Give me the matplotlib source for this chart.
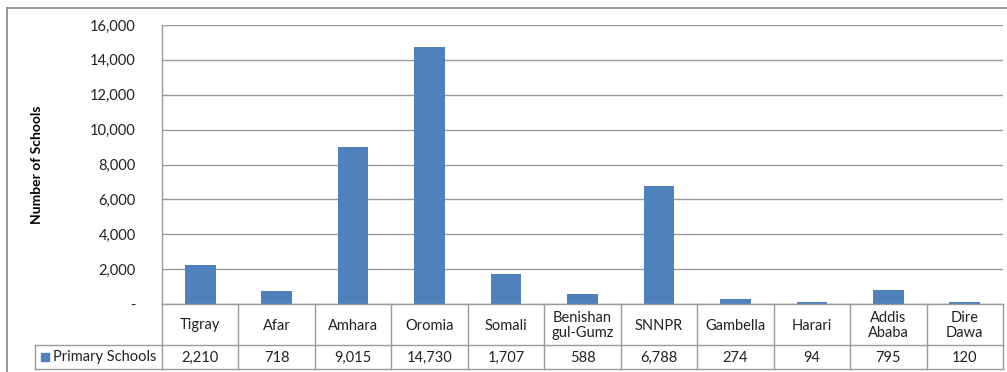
import matplotlib
matplotlib.use("Agg")
import matplotlib.pyplot as plt
from matplotlib.lines import Line2D
from matplotlib.patches import Rectangle
from matplotlib.ticker import FuncFormatter

categories = ["Tigray", "Afar", "Amhara", "Oromia", "Somali", "Benishan\ngul-Gumz",
              "SNNPR", "Gambella", "Harari", "Addis\nAbaba", "Dire\nDawa"]
primary_schools = [2210, 718, 9015, 14730, 1707, 588, 6788, 274, 94, 795, 120]
series_name = "Primary Schools"
y_ticks = [0, 2000, 4000, 6000, 8000, 10000, 12000, 14000, 16000]

plt.rcParams['font.family'] = ['Lato', 'DejaVu Sans']
W, H = 1007, 372
fig = plt.figure(figsize=(W / 100, H / 100), dpi=100)
fig.patch.set_facecolor('white')

def fx(px):
    return px / W

def fy(py):
    return 1 - py / H

bar_color = '#4F81BD'
grid_color = '#9a9a9a'
line_color = '#9a9a9a'

left, right, top, bottom = 162, 1003, 25, 304
ax = fig.add_axes([fx(left), fy(bottom), fx(right - left), (bottom - top) / H])
x = list(range(len(categories)))
ax.bar(x, primary_schools, width=0.4, color=bar_color, zorder=3)
ax.set_xlim(-0.5, len(categories) - 0.5)
ax.set_ylim(0, 16000)
ax.set_yticks(y_ticks)
ax.yaxis.set_major_formatter(FuncFormatter(lambda v, p: '-' if v == 0 else f"{int(v):,}"))
ax.tick_params(axis='y', length=0, pad=19, labelsize=10.5, colors='#222222')
ax.set_xticks([])
ax.grid(axis='y', color=grid_color, linewidth=1, zorder=0)
for s in ['top', 'right', 'bottom']:
    ax.spines[s].set_visible(False)
ax.spines['left'].set_color(line_color)
ax.spines['left'].set_linewidth(1)
ax.set_ylabel("Number of Schools", fontsize=10, fontweight='bold', labelpad=0)
ax.yaxis.set_label_coords(fx(43 - left) / fx(right - left), 0.5)

# data table
row1_top, row1_bot, row2_bot = 304, 345, 369
label_left = 35
tax = fig.add_axes([fx(left), fy(row2_bot), fx(right - left), (row2_bot - row1_top) / H], sharex=ax)
tax.set_ylim(row2_bot, row1_top)
tax.axis('off')
n = len(categories)
lw = 1
kw = dict(color=line_color, linewidth=lw, clip_on=False)
# horizontal lines
tax.plot([-0.5, n - 0.5], [row1_top, row1_top], **kw)
tax.plot([-0.5, n - 0.5], [row1_bot, row1_bot], **kw)
tax.plot([-0.5, n - 0.5], [row2_bot, row2_bot], **kw)
# vertical lines
for i in range(n + 1):
    tax.plot([i - 0.5, i - 0.5], [row1_top, row2_bot], **kw)
for i, (c, v) in enumerate(zip(categories, primary_schools)):
    tax.text(i, (row1_top + row1_bot) / 2 + 1, c, ha='center', va='center', fontsize=10.5,
             linespacing=1.05, color='#222222')
    tax.text(i, (row1_bot + row2_bot) / 2 + 1, f"{v:,}", ha='center', va='center', fontsize=10.5,
             color='#222222')
# label column
fig.add_artist(Line2D([fx(label_left), fx(left)], [fy(row1_bot), fy(row1_bot)], color=line_color, linewidth=lw))
fig.add_artist(Line2D([fx(label_left), fx(left)], [fy(row2_bot), fy(row2_bot)], color=line_color, linewidth=lw))
fig.add_artist(Line2D([fx(label_left), fx(label_left)], [fy(row1_bot), fy(row2_bot)], color=line_color, linewidth=lw))
fig.add_artist(Rectangle((fx(41), fy(361)), fx(8), 8 / H, color=bar_color))
fig.text(fx(53), fy(357), series_name, ha='left', va='center', fontsize=10.5, color='#222222')

# outer chart border
fig.add_artist(Line2D([fx(7), fx(W)], [fy(8), fy(8)], color='#868686', linewidth=1.2))
fig.add_artist(Line2D([fx(7), fx(7)], [fy(8), 0], color='#868686', linewidth=1.2))

fig.savefig("out.png", dpi=100, facecolor='white')
